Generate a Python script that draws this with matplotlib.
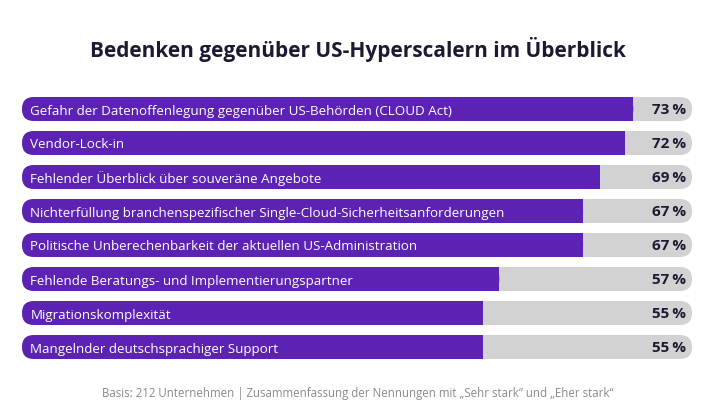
import matplotlib
matplotlib.use("Agg")
import matplotlib.pyplot as plt
from matplotlib.patches import FancyBboxPatch, Rectangle

categories = [
    "Gefahr der Datenoffenlegung gegenüber US-Behörden (CLOUD Act)",
    "Vendor-Lock-in",
    "Fehlender Überblick über souveräne Angebote",
    "Nichterfüllung branchenspezifischer Single-Cloud-Sicherheitsanforderungen",
    "Politische Unberechenbarkeit der aktuellen US-Administration",
    "Fehlende Beratungs- und Implementierungspartner",
    "Migrationskomplexität",
    "Mangelnder deutschsprachiger Support",
]
values = [73, 72, 69, 67, 67, 57, 55, 55]
value_labels = ["73\u2009%", "72\u2009%", "69\u2009%", "67\u2009%", "67\u2009%", "57\u2009%", "55\u2009%", "55\u2009%"]
title = "Bedenken gegenüber US-Hyperscalern im Überblick"
footer = "Basis: 212 Unternehmen | Zusammenfassung der Nennungen mit „Sehr stark“ und „Eher stark“"

PURPLE = "#5b22b4"
GREY = "#d2d2d2"
DARK = "#1b1a33"
XMAX = 80
FAM = ["Open Sans", "DejaVu Sans"]

W, H = 715, 412
fig = plt.figure(figsize=(W / 100, H / 100), dpi=100)
fig.patch.set_facecolor("white")

left_px, right_px = 22, 692
top_px, bot_px = 92, 364
ax = fig.add_axes([left_px / W, 1 - bot_px / H, (right_px - left_px) / W, (bot_px - top_px) / H])
ax.set_xlim(0, XMAX)
n = len(categories)
ax.set_ylim(n - 0.5, -0.5)
ax.axis("off")

px_per_x = (right_px - left_px) / XMAX
px_per_y = (bot_px - top_px) / n
aspect = px_per_x / px_per_y
radius_px = 12
r = radius_px / px_per_x
bh = 24 / px_per_y
dy = 2 / px_per_y

for i, (cat, v, lab) in enumerate(zip(categories, values, value_labels)):
    bg = FancyBboxPatch((0, i - bh / 2), XMAX, bh,
                        boxstyle=f"round,pad=0,rounding_size={r}",
                        mutation_aspect=aspect, fc=GREY, ec="none")
    ax.add_patch(bg)
    fg = FancyBboxPatch((0, i - bh / 2), v, bh,
                        boxstyle=f"round,pad=0,rounding_size={r}",
                        mutation_aspect=aspect, fc=PURPLE, ec="none")
    ax.add_patch(fg)
    ax.add_patch(Rectangle((v - r, i - bh / 2), r, bh, fc=PURPLE, ec="none"))
    ax.text(1.0, i + dy, cat, color="white", fontsize=9.6, va="center", ha="left",
            family=FAM)
    ax.text(XMAX - 0.75, i + dy * 0.6, lab, color=DARK, fontsize=11, va="center", ha="right",
            family=FAM, fontweight="bold")

fig.text(0.5, 1 - 50 / H, title, ha="center", va="center", fontsize=15,
         fontweight="bold", color=DARK, family=FAM)
fig.text(0.5, 1 - 393 / H, footer, ha="center", va="center", fontsize=8.3,
         color="#8a8a8a", family=FAM)

fig.savefig("out.png", dpi=100, facecolor="white")
